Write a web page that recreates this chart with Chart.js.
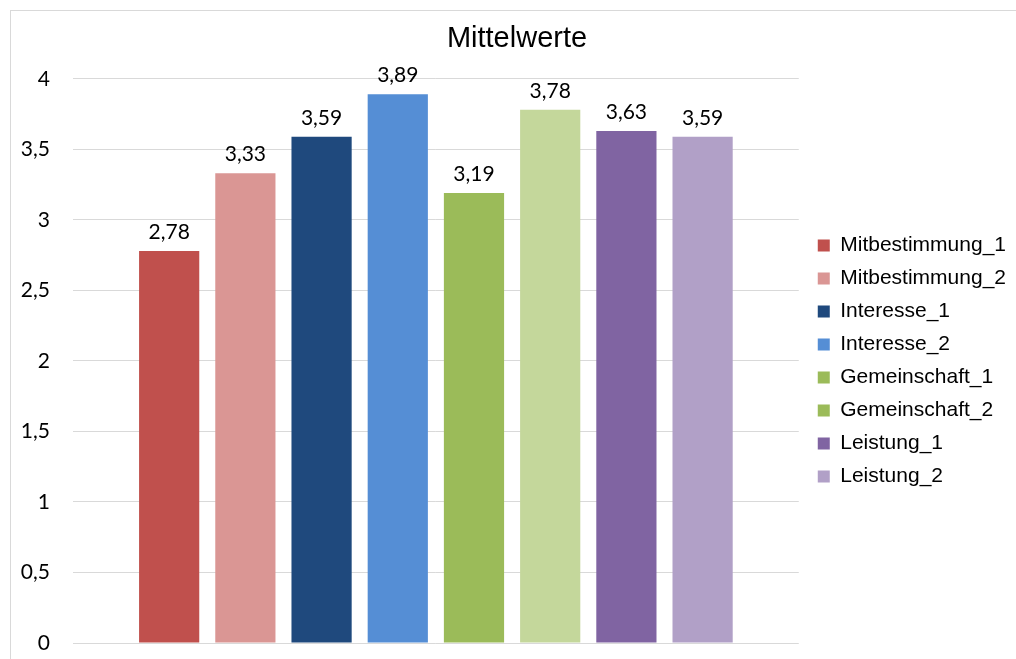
<!DOCTYPE html>
<html><head><meta charset="utf-8">
<script src="https://cdn.jsdelivr.net/npm/chart.js@4.4.0/dist/chart.umd.min.js"></script>
<style>
html,body{margin:0;padding:0;background:#fff;}
#wrap{position:relative;width:1016px;height:659px;}
#frame{position:absolute;left:10px;top:10px;right:0;bottom:0;border-top:1px solid #d9d9d9;border-left:1px solid #d9d9d9;pointer-events:none;}
</style></head><body>
<div id="wrap"><canvas id="c" width="1016" height="659"></canvas><div id="frame"></div></div>
<script>
// ---- data ----
const chartTitle = 'Mittelwerte';
const categories = ['Mittelwerte'];
const seriesNames = ['Mitbestimmung_1', 'Mitbestimmung_2', 'Interesse_1', 'Interesse_2', 'Gemeinschaft_1', 'Gemeinschaft_2', 'Leistung_1', 'Leistung_2'];
const seriesValues = [2.78, 3.33, 3.59, 3.89, 3.19, 3.78, 3.63, 3.59];
const yTickValues = [0, 0.5, 1, 1.5, 2, 2.5, 3, 3.5, 4];
const yTickLabels = ['0', '0,5', '1', '1,5', '2', '2,5', '3', '3,5', '4'];

// ---- styles ----
const barColors = ['#C0504D', '#DA9694', '#1F497D', '#558ED5', '#9BBB59', '#C4D79B', '#8064A2', '#B1A0C7'];
const legendSwatches = ['#C0504D', '#DA9694', '#1F497D', '#558ED5', '#9BBB59', '#9BBB59', '#8064A2', '#B1A0C7'];

const fmt = v => v.toFixed(2).replace('.', ',');

const valueLabels = {
  id: 'valueLabels',
  afterDatasetsDraw(chart) {
    const ctx = chart.ctx;
    ctx.save();
    ctx.font = '21px Lato';
    ctx.fillStyle = '#000';
    ctx.textAlign = 'center';
    ctx.textBaseline = 'alphabetic';
    chart.data.datasets.forEach((ds, i) => {
      const meta = chart.getDatasetMeta(i);
      meta.data.forEach((el, j) => {
        ctx.fillText(fmt(ds.data[j]), el.x, el.y - 12);
      });
    });
    ctx.restore();
  }
};

new Chart(document.getElementById('c'), {
  type: 'bar',
  data: {
    labels: categories,
    datasets: seriesNames.map((name, i) => ({
      label: name,
      data: [seriesValues[i]],
      backgroundColor: barColors[i],
      borderWidth: 0,
      categoryPercentage: 0.84,
      barPercentage: 0.79
    }))
  },
  options: {
    responsive: false,
    animation: false,
    devicePixelRatio: 1,
    layout: { padding: { left: 18, right: 0, top: 10, bottom: 16 } },
    plugins: {
      title: {
        display: true,
        text: chartTitle,
        color: '#000',
        font: { family: 'Liberation Sans', size: 29, weight: 'normal', lineHeight: 1.2 },
        padding: { top: 12, bottom: 22 }
      },
      legend: {
        position: 'right',
        align: 'center',
        fullSize: false,
        maxWidth: 240,
        labels: {
          color: '#000',
          font: { family: 'Liberation Sans', size: 21 },
          boxWidth: 12,
          boxHeight: 12,
          padding: 12,
          generateLabels(chart) {
            const items = Chart.defaults.plugins.legend.labels.generateLabels(chart);
            items.forEach((it, i) => {
              it.fillStyle = legendSwatches[i];
              it.strokeStyle = legendSwatches[i];
              it.lineWidth = 0;
            });
            return items;
          }
        }
      },
      tooltip: { enabled: false }
    },
    scales: {
      x: { display: false },
      y: {
        min: 0,
        max: 4,
        afterBuildTicks(s) { s.ticks = yTickValues.map(v => ({ value: v })); },
        afterFit(s) { s.width = 55; s.paddingTop = 0; s.paddingBottom = 0; },
        grid: { color: '#d9d9d9', drawTicks: false, lineWidth: 1 },
        border: { display: false },
        ticks: {
          padding: 23,
          color: '#000',
          font: { family: 'Lato', size: 21 },
          callback: (v) => yTickLabels[yTickValues.indexOf(v)]
        }
      },
      gap: {
        type: 'linear',
        position: 'right',
        display: true,
        grid: { display: false, drawTicks: false },
        border: { display: false },
        ticks: { display: false },
        afterFit(s) { s.width = 7; s.paddingTop = 0; s.paddingBottom = 0; }
      }
    }
  },
  plugins: [valueLabels]
});
</script>
</body></html>
